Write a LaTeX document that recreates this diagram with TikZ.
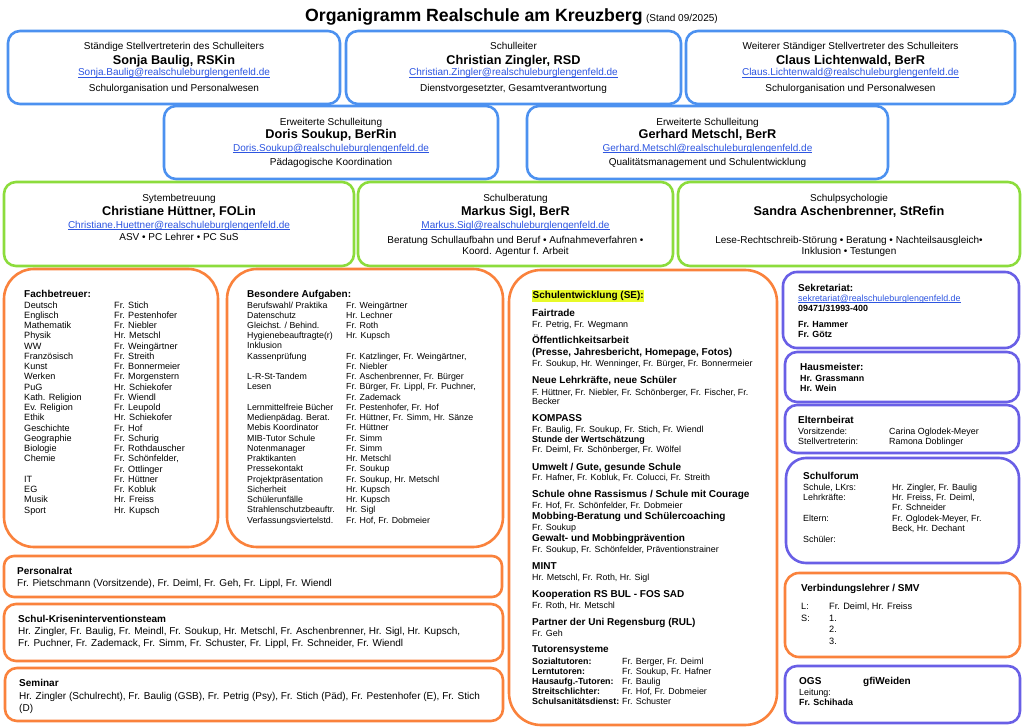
\documentclass[tikz,border=0pt]{standalone}
\usepackage{fontspec}
\usepackage{array}
\setmainfont{Liberation Sans}
\definecolor{cblue}{RGB}{76,145,240}
\definecolor{cgreen}{RGB}{140,220,60}
\definecolor{corange}{RGB}{250,130,60}
\definecolor{cpurple}{RGB}{105,95,230}
\definecolor{clink}{RGB}{45,85,225}
\definecolor{chl}{RGB}{232,250,40}
\newcommand\myfT{\fontsize{10}{12}\selectfont}
\newcommand\myfN{\fontsize{12.7}{15}\selectfont\bfseries}
\newcommand\myfS{\fontsize{8.9}{10.3}\selectfont}
\newcommand\mylink[1]{\textcolor{clink}{\setbox0\hbox{#1}\rlap{\rule[-1.2pt]{\wd0}{0.55pt}}\box0}}
\begin{document}
\begin{tikzpicture}[x=1pt,y=-1pt,
  bx/.style={draw=#1, line width=2.6pt, inner sep=0pt},
  ct/.style={inner sep=0pt, anchor=base, font=\myfT},
  nm/.style={inner sep=0pt, anchor=base, font=\myfN},
  lt/.style={inner sep=0pt, anchor=base west},
  hd/.style={inner sep=0pt, anchor=base west, font=\myfT\bfseries},
  sm/.style={inner sep=0pt, anchor=base west, font=\myfS},
  smb/.style={inner sep=0pt, anchor=base west, font=\myfS\bfseries},
  bt/.style={inner sep=0pt, anchor=base west, font=\myfT},
]
\fill[white] (0,0) rectangle (1024,727);
\useasboundingbox (0,0) rectangle (1024,727);

% Title
\node[lt, font=\fontsize{17.7}{20}\selectfont\bfseries] (title) at (305,22) {Organigramm Realschule am Kreuzberg};
\node[lt, font=\myfT] (stand) at ([xshift=3pt]title.base east) {(Stand 09/2025)};

% Row 1
\node[bx=cblue, rounded corners=12pt, minimum width=332pt, minimum height=73pt] (bA) at (174,67.5) {};
\node[ct] (bAt) at (174,49.5) {Ständige Stellvertreterin des Schulleiters};
\node[nm] (bAn) at (174,64.5) {Sonja Baulig, RSKin};
\node[ct] (bAe) at (174,76) {\mylink{Sonja.Baulig@realschuleburglengenfeld.de}};
\node[ct] (bAd) at (174,91.5) {Schulorganisation und Personalwesen};

\node[bx=cblue, rounded corners=12pt, minimum width=335pt, minimum height=73pt] (bB) at (513.5,67.5) {};
\node[ct] (bBt) at (513.5,49.5) {Schulleiter};
\node[nm] (bBn) at (513.5,64.5) {Christian Zingler, RSD};
\node[ct] (bBe) at (513.5,76) {\mylink{Christian.Zingler@realschuleburglengenfeld.de}};
\node[ct] (bBd) at (513.5,91.5) {Dienstvorgesetzter, Gesamtverantwortung};

\node[bx=cblue, rounded corners=12pt, minimum width=329pt, minimum height=73pt] (bC) at (850.5,67.5) {};
\node[ct] (bCt) at (850.5,49.5) {Weiterer Ständiger Stellvertreter des Schulleiters};
\node[nm] (bCn) at (850.5,64.5) {Claus Lichtenwald, BerR};
\node[ct] (bCe) at (850.5,76) {\mylink{Claus.Lichtenwald@realschuleburglengenfeld.de}};
\node[ct] (bCd) at (850.5,91.5) {Schulorganisation und Personalwesen};

% Row 2
\node[bx=cblue, rounded corners=12pt, minimum width=334pt, minimum height=73pt] (bD) at (331,142.5) {};
\node[ct] (bDt) at (331,125.5) {Erweiterte Schulleitung};
\node[nm] (bDn) at (331,139) {Doris Soukup, BerRin};
\node[ct] (bDe) at (331,151.5) {\mylink{Doris.Soukup@realschuleburglengenfeld.de}};
\node[ct] (bDd) at (331,166) {Pädagogische Koordination};

\node[bx=cblue, rounded corners=12pt, minimum width=361pt, minimum height=73pt] (bE) at (707.5,142.5) {};
\node[ct] (bEt) at (707.5,125.5) {Erweiterte Schulleitung};
\node[nm] (bEn) at (707.5,139) {Gerhard Metschl, BerR};
\node[ct] (bEe) at (707.5,151.5) {\mylink{Gerhard.Metschl@realschuleburglengenfeld.de}};
\node[ct] (bEd) at (707.5,166) {Qualitätsmanagement und Schulentwicklung};

% Row 3
\node[bx=cgreen, rounded corners=12pt, minimum width=350pt, minimum height=84pt] (bF) at (179,224) {};
\node[ct] (bFt) at (179,201.5) {Sytembetreuung};
\node[nm] (bFn) at (179,215.5) {Christiane Hüttner, FOLin};
\node[ct] (bFe) at (179,228.5) {\mylink{Christiane.Huettner@realschuleburglengenfeld.de}};
\node[ct] (bFd) at (179,240.5) {ASV • PC Lehrer • PC SuS};

\node[bx=cgreen, rounded corners=12pt, minimum width=315pt, minimum height=84pt] (bG) at (515.5,224) {};
\node[ct] (bGt) at (515.5,201.5) {Schulberatung};
\node[nm] (bGn) at (515.5,215.5) {Markus Sigl, BerR};
\node[ct] (bGe) at (515.5,228.5) {\mylink{Markus.Sigl@realschuleburglengenfeld.de}};
\node[ct] (bGd) at (515.5,243.5) {Beratung Schullaufbahn und Beruf • Aufnahmeverfahren •};
\node[ct] (bGf) at (515.5,254.5) {Koord. Agentur f. Arbeit};

\node[bx=cgreen, rounded corners=12pt, minimum width=342pt, minimum height=84pt] (bH) at (849,224) {};
\node[ct] (bHt) at (849,201.5) {Schulpsychologie};
\node[nm] (bHn) at (849,215.5) {Sandra Aschenbrenner, StRefin};
\node[ct] (bHd) at (849,243.5) {Lese-Rechtschreib-Störung • Beratung • Nachteilsausgleich•};
\node[ct] (bHf) at (849,254.5) {Inklusion • Testungen};

% Fachbetreuer
\node[bx=corange, rounded corners=30pt, minimum width=214pt, minimum height=278pt] (bFach) at (111,408) {};
\node[hd] (fachh) at (24,297.5) {Fachbetreuer:};
\node[lt, font=\fontsize{9.1}{10.25}\selectfont] (fachl) at (24,308) {\begin{tabular}[t]{@{}p{90pt}@{}l@{}}
Deutsch & Fr. Stich\\
Englisch & Fr. Pestenhofer\\
Mathematik & Fr. Niebler\\
Physik & Hr. Metschl\\
WW & Fr. Weingärtner\\
Französisch & Fr. Streith\\
Kunst & Fr. Bonnermeier\\
Werken & Fr. Morgenstern\\
PuG & Hr. Schiekofer\\
Kath. Religion & Fr. Wiendl\\
Ev. Religion & Fr. Leupold\\
Ethik & Hr. Schiekofer\\
Geschichte & Fr. Hof\\
Geographie & Fr. Schurig\\
Biologie & Fr. Rothdauscher\\
Chemie & Fr. Schönfelder,\\
 & Fr. Ottlinger\\
IT & Fr. Hüttner\\
EG & Fr. Kobluk\\
Musik & Hr. Freiss\\
Sport & Hr. Kupsch
\end{tabular}};

% Besondere Aufgaben
\node[bx=corange, rounded corners=30pt, minimum width=276pt, minimum height=278pt] (bBes) at (365,408) {};
\node[hd] (besh) at (247,297.5) {Besondere Aufgaben:};
\node[lt, font=\fontsize{8.8}{10.24}\selectfont] (besl) at (247,308) {\begin{tabular}[t]{@{}p{99pt}@{}l@{}}
Berufswahl/ Praktika & Fr. Weingärtner\\
Datenschutz & Hr. Lechner\\
Gleichst. / Behind. & Fr. Roth\\
Hygienebeauftragte(r) & Hr. Kupsch\\
Inklusion & \\
Kassenprüfung & Fr. Katzlinger, Fr. Weingärtner,\\
 & Fr. Niebler\\
L-R-St-Tandem & Fr. Aschenbrenner, Fr. Bürger\\
Lesen & Fr. Bürger, Fr. Lippl, Fr. Puchner,\\
 & Fr. Zademack\\
Lernmittelfreie Bücher & Fr. Pestenhofer, Fr. Hof\\
Medienpädag. Berat. & Fr. Hüttner, Fr. Simm, Hr. Sänze\\
Mebis Koordinator & Fr. Hüttner\\
MIB-Tutor Schule & Fr. Simm\\
Notenmanager & Fr. Simm\\
Praktikanten & Hr. Metschl\\
Pressekontakt & Fr. Soukup\\
Projektpräsentation & Fr. Soukup, Hr. Metschl\\
Sicherheit & Hr. Kupsch\\
Schülerunfälle & Hr. Kupsch\\
Strahlenschutzbeauftr. & Hr. Sigl\\
Verfassungsviertelstd. & Fr. Hof, Fr. Dobmeier
\end{tabular}};

% Schulentwicklung
\node[bx=corange, rounded corners=32pt, minimum width=268pt, minimum height=455pt] (bSE) at (643,497.5) {};
\node[lt, fill=chl, inner xsep=0.5pt, inner ysep=1.5pt, font=\myfT\bfseries] (seh) at (532,298.5) {Schulentwicklung (SE):};
\node[hd] (se1) at (532,316.5) {Fairtrade};
\node[sm] (se2) at (532,327) {Fr. Petrig, Fr. Wegmann};
\node[hd] (se3) at (532,343.5) {Öffentlichkeitsarbeit};
\node[hd] (se4) at (532,355.5) {(Presse, Jahresbericht, Homepage, Fotos)};
\node[sm] (se5) at (532,366) {Fr. Soukup, Hr. Wenninger, Fr. Bürger, Fr. Bonnermeier};
\node[hd] (se6) at (532,383.5) {Neue Lehrkräfte, neue Schüler};
\node[sm] (se7) at (532,395) {F. Hüttner, Fr. Niebler, Fr. Schönberger, Fr. Fischer, Fr.};
\node[sm] (se8) at (532,404.5) {Becker};
\node[hd] (se9) at (532,421.5) {KOMPASS};
\node[sm] (se10) at (532,432) {Fr. Baulig, Fr. Soukup, Fr. Stich, Fr. Wiendl};
\node[smb] (se11) at (532,442) {Stunde der Wertschätzung};
\node[sm] (se12) at (532,452) {Fr. Deiml, Fr. Schönberger, Fr. Wölfel};
\node[hd] (se13) at (532,470.5) {Umwelt / Gute, gesunde Schule};
\node[sm] (se14) at (532,480) {Fr. Hafner, Fr. Kobluk, Fr. Colucci, Fr. Streith};
\node[hd] (se15) at (532,497.5) {Schule ohne Rassismus / Schule mit Courage};
\node[sm] (se16) at (532,508) {Fr. Hof, Fr. Schönfelder, Fr. Dobmeier};
\node[hd] (se17) at (532,519.5) {Mobbing-Beratung und Schülercoaching};
\node[sm] (se18) at (532,530) {Fr. Soukup};
\node[hd] (se19) at (532,541.5) {Gewalt- und Mobbingprävention};
\node[sm] (se20) at (532,552) {Fr. Soukup, Fr. Schönfelder, Präventionstrainer};
\node[hd] (se21) at (532,569.5) {MINT};
\node[sm] (se22) at (532,580) {Hr. Metschl, Fr. Roth, Hr. Sigl};
\node[hd] (se23) at (532,597.5) {Kooperation RS BUL - FOS SAD};
\node[sm] (se24) at (532,608) {Fr. Roth, Hr. Metschl};
\node[hd] (se25) at (532,625.5) {Partner der Uni Regensburg (RUL)};
\node[sm] (se26) at (532,636) {Fr. Geh};
\node[hd] (se27) at (532,652.5) {Tutorensysteme};
\node[lt, font=\fontsize{8.9}{10}\selectfont] (setut) at (532,664) {\begin{tabular}[t]{@{}>{\bfseries}p{90pt}@{}l@{}}
Sozialtutoren: & Fr. Berger, Fr. Deiml\\
Lerntutoren: & Fr. Soukup, Fr. Hafner\\
Hausaufg.-Tutoren: & Fr. Baulig\\
Streitschlichter: & Fr. Hof, Fr. Dobmeier\\
Schulsanitätsdienst: & Fr. Schuster
\end{tabular}};

% Bottom left boxes
\node[bx=corange, rounded corners=10pt, minimum width=498pt, minimum height=41pt] (bPR) at (253,576.5) {};
\node[hd] (prh) at (17,574.5) {Personalrat};
\node[bt] (prl) at (17,586) {Fr. Pietschmann (Vorsitzende), Fr. Deiml, Fr. Geh, Fr. Lippl, Fr. Wiendl};

\node[bx=corange, rounded corners=12pt, minimum width=499pt, minimum height=57pt] (bKr) at (253.5,632.5) {};
\node[hd] (krh) at (18,622.5) {Schul-Kriseninterventionsteam};
\node[bt] (krl1) at (18,634.5) {Hr. Zingler, Fr. Baulig, Fr. Meindl, Fr. Soukup, Hr. Metschl, Fr. Aschenbrenner, Hr. Sigl, Hr. Kupsch,};
\node[bt] (krl2) at (18,646.5) {Fr. Puchner, Fr. Zademack, Fr. Simm, Fr. Schuster, Fr. Lippl, Fr. Schneider, Fr. Wiendl};

\node[bx=corange, rounded corners=12pt, minimum width=498pt, minimum height=53pt] (bSem) at (254,694.5) {};
\node[hd] (semh) at (19,686.5) {Seminar};
\node[bt] (seml1) at (19,699.5) {Hr. Zingler (Schulrecht), Fr. Baulig (GSB), Fr. Petrig (Psy), Fr. Stich (Päd), Fr. Pestenhofer (E), Fr. Stich};
\node[bt] (seml2) at (19,711) {(D)};

% Right column
\node[bx=cpurple, rounded corners=14pt, minimum width=236pt, minimum height=76pt] (bSek) at (901,310) {};
\node[hd] (sekh) at (798,291.5) {Sekretariat:};
\node[sm] (seke) at (798,301.5) {\mylink{sekretariat@realschuleburglengenfeld.de}};
\node[smb] (sekp) at (798,311.5) {09471/31993-400};
\node[smb] (sek1) at (798,327) {Fr. Hammer};
\node[smb] (sek2) at (798,337) {Fr. Götz};

\node[bx=cpurple, rounded corners=12pt, minimum width=234pt, minimum height=50pt] (bHaus) at (902,377) {};
\node[hd] (haush) at (800,370.5) {Hausmeister:};
\node[smb] (haus1) at (800,381) {Hr. Grassmann};
\node[smb] (haus2) at (800,391) {Hr. Wein};

\node[bx=cpurple, rounded corners=12pt, minimum width=234pt, minimum height=48pt] (bEl) at (902,429) {};
\node[hd] (elh) at (798,423.5) {Elternbeirat};
\node[lt, font=\fontsize{8.9}{10}\selectfont] (ell) at (798,434) {\begin{tabular}[t]{@{}p{91pt}@{}l@{}}
Vorsitzende: & Carina Oglodek-Meyer\\
Stellvertreterin: & Ramona Doblinger
\end{tabular}};

\node[bx=cpurple, rounded corners=20pt, minimum width=233pt, minimum height=105pt] (bSF) at (902.5,510.5) {};
\node[hd] (sfh) at (803,479.5) {Schulforum};
\node[lt, font=\fontsize{8.9}{10.4}\selectfont] (sfl) at (803,490) {\begin{tabular}[t]{@{}p{89pt}@{}l@{}}
Schule, LKrs: & Hr. Zingler, Fr. Baulig\\
Lehrkräfte: & Hr. Freiss, Fr. Deiml,\\
 & Fr. Schneider\\
Eltern: & Fr. Oglodek-Meyer, Fr.\\
 & Beck, Hr. Dechant\\
Schüler: &
\end{tabular}};

\node[bx=corange, rounded corners=14pt, minimum width=235pt, minimum height=84pt] (bVL) at (902.5,615) {};
\node[hd] (vlh) at (801,591.5) {Verbindungslehrer / SMV};
\node[lt, font=\fontsize{9.2}{11.8}\selectfont] (vll) at (801,609.3) {\begin{tabular}[t]{@{}p{28pt}@{}l@{}}
L: & Fr. Deiml, Hr. Freiss\\
S: & 1.\\
 & 2.\\
 & 3.
\end{tabular}};

\node[bx=cpurple, rounded corners=12pt, minimum width=235pt, minimum height=57pt] (bOGS) at (902.5,694.5) {};
\node[hd] (ogsh) at (799,684.5) {OGS};
\node[hd] (ogsg) at (863,684.5) {gfiWeiden};
\node[sm] (ogsl) at (799,695) {Leitung:};
\node[smb] (ogsn) at (799,705) {Fr. Schihada};
\end{tikzpicture}
\end{document}
